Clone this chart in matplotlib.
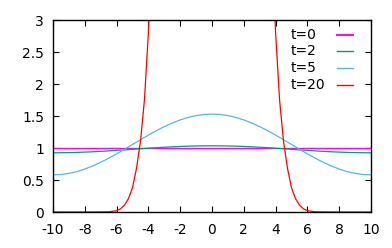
import matplotlib
matplotlib.use("Agg")
import numpy as np
import matplotlib.pyplot as plt

# x grid (step 0.5) shared by the smooth curves
x = np.arange(-10, 10.01, 0.5)

# t=0 : flat
y_t0 = [1.0] * len(x)

# t=2 : small bump
y_t2 = [0.925, 0.926, 0.928, 0.931, 0.936, 0.941, 0.948, 0.955, 0.963, 0.971,
        0.980, 0.988, 0.997, 1.005, 1.012, 1.019, 1.024, 1.029, 1.032, 1.034,
        1.035,
        1.034, 1.032, 1.029, 1.024, 1.019, 1.012, 1.005, 0.997, 0.988, 0.980,
        0.971, 0.963, 0.955, 0.948, 0.941, 0.936, 0.931, 0.928, 0.926, 0.925]

# t=5 : wide bell
y_t5 = [0.580, 0.586, 0.603, 0.630, 0.671, 0.720, 0.776, 0.840, 0.908, 0.981,
        1.055, 1.129, 1.202, 1.270, 1.334, 1.390, 1.439, 1.478, 1.507, 1.524,
        1.530,
        1.524, 1.507, 1.478, 1.439, 1.390, 1.334, 1.270, 1.202, 1.129, 1.055,
        0.981, 0.908, 0.840, 0.776, 0.720, 0.671, 0.630, 0.603, 0.586, 0.580]

# t=20 : sharp, goes off the top
x_t20 = [-10, -8, -7, -6.5, -6, -5.75, -5.5, -5.25, -5, -4.75, -4.5, -4.25, -4, -3.75, -3.5,
         0,
         3.5, 3.75, 4, 4.25, 4.5, 4.75, 5, 5.25, 5.5, 5.75, 6, 6.5, 7, 8, 10]
y_t20 = [0.0, 0.0, 0.001, 0.003, 0.02, 0.05, 0.11, 0.21, 0.38, 0.68, 1.10, 1.75, 2.8, 4.3, 6.5,
         30.0,
         6.5, 4.3, 2.8, 1.75, 1.10, 0.68, 0.38, 0.21, 0.11, 0.05, 0.02, 0.003, 0.001, 0.0, 0.0]

labels = ["t=0", "t=2", "t=5", "t=20"]
colors = ["#ff00ff", "#009e73", "#56b4e9", "#ff0000"]

plt.rcParams['font.family'] = ['DejaVu Sans']
plt.rcParams['axes.unicode_minus'] = False
fig = plt.figure(figsize=(3.92, 2.48), dpi=100)
ax = fig.add_axes([53/392, 1-212/248, (371-53)/392, (212-20)/248])

ax.plot(x, y_t0, color=colors[0], lw=1.0)
ax.plot(x, y_t2, color=colors[1], lw=0.9)
ax.plot(x, y_t5, color=colors[2], lw=0.9)
ax.plot(x_t20, y_t20, color=colors[3], lw=0.9)

ax.set_xlim(-10, 10)
ax.set_ylim(0, 3)
ax.set_xticks(np.arange(-10, 11, 2))
ax.set_yticks([0, 0.5, 1, 1.5, 2, 2.5, 3])
ax.set_yticklabels(["0", "0.5", "1", "1.5", "2", "2.5", "3"])
ax.tick_params(direction='in', top=True, right=True, length=4, width=0.8,
               labelsize=10)
ax.tick_params(axis='x', pad=8)
ax.tick_params(axis='y', pad=6.5)
for s in ax.spines.values():
    s.set_linewidth(1.0)

# gnuplot style key: text left aligned, sample line on the right
key_y = [0.923, 0.839, 0.750, 0.660]
for lab, col, ky in zip(labels, colors, key_y):
    ax.text(0.748, ky, lab, transform=ax.transAxes, fontsize=10, va='center', ha='left')
    ax.plot([0.893, 0.943], [ky, ky], transform=ax.transAxes, color=col,
            lw=1.4 if lab == "t=0" else 1.0, clip_on=False)

fig.savefig("out.png", dpi=100)
